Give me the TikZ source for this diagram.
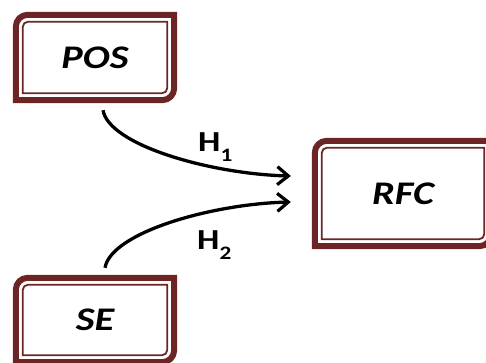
\documentclass[tikz,border=0pt]{standalone}
\usepackage{fontspec}
\setmainfont{Carlito}
\usetikzlibrary{arrows.meta}
\definecolor{framered}{RGB}{108,36,36}
\newcommand\widetext[1]{\scalebox{1.22}[1]{#1}}

\begin{document}
\begin{tikzpicture}[x=1pt,y=1pt,
    varbox/.style={inner sep=0pt, minimum width=158pt, minimum height=85pt,
      font=\fontsize{33}{40}\selectfont\bfseries\itshape},
    outerline/.style={draw=framered, line width=6pt},
    innerline/.style={draw=framered, line width=1.8pt},
    hyp/.style={line width=3.3pt, -{Straight Barb[length=11pt,width=18pt,line width=3.2pt]}},
    hlabel/.style={anchor=base west, inner sep=0pt, font=\fontsize{29}{34}\selectfont\bfseries}]
    \useasboundingbox (0,0) rectangle (486,363);
    \node[varbox] (pos) at (95,305.5) {\widetext{POS}};
    \node[varbox, minimum width=176pt, minimum height=105pt] (rfc) at (403,169.5) {\widetext{RFC}};
    \node[varbox, minimum height=84pt] (se) at (95,43) {\widetext{SE}};
    \foreach \n in {pos,rfc,se} {
        \draw[outerline] ([yshift=-12pt]\n.north west) arc[start angle=180,end angle=90,radius=12pt]
            -- (\n.north east) -- ([yshift=12pt]\n.south east) arc[start angle=0,end angle=-90,radius=12pt]
            -- (\n.south west) -- cycle;
        \draw[innerline] ([xshift=7pt,yshift=-12pt]\n.north west) arc[start angle=180,end angle=90,radius=5pt]
            -- ([xshift=-7pt,yshift=-7pt]\n.north east) -- ([xshift=-7pt,yshift=12pt]\n.south east)
            arc[start angle=0,end angle=-90,radius=5pt] -- ([xshift=7pt,yshift=7pt]\n.south west) -- cycle;
    }
    \draw[hyp] ([xshift=8pt,yshift=-10pt]pos.south) .. controls +(6,-35) and +(-80,2) .. ([xshift=-24pt,yshift=17.5pt]rfc.west);
    \draw[hyp] ([xshift=10pt,yshift=10pt]se.north) .. controls +(6,35) and +(-80,-2) .. ([xshift=-24pt,yshift=-8.5pt]rfc.west);
    \node[hlabel] (h1) at (198,211) {\widetext{H\raisebox{-10pt}{\fontsize{19}{19}\selectfont 1}}};
    \node[hlabel] (h2) at (197,113) {\widetext{H\raisebox{-10pt}{\fontsize{19}{19}\selectfont 2}}};
\end{tikzpicture}
\end{document}
